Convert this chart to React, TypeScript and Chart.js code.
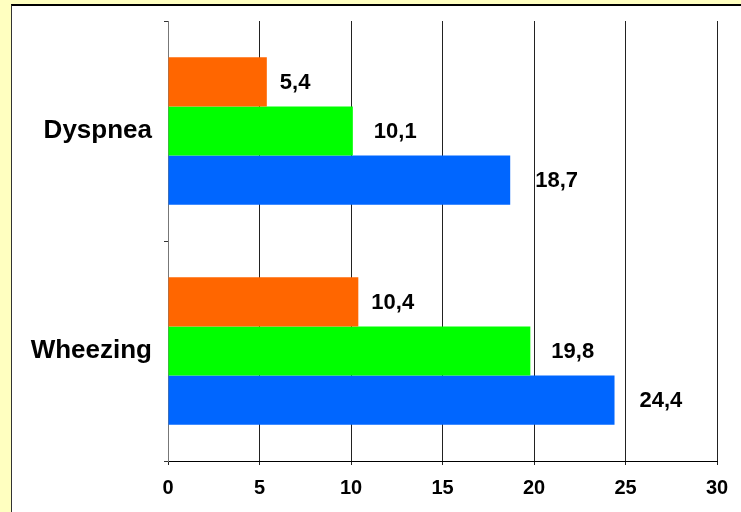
import React, { useEffect, useRef } from "react";
import { Chart, registerables } from "chart.js";

Chart.register(...registerables);

const categories = ["Dyspnea", "Wheezing"];
const seriesOrange = [5.4, 10.4];
const seriesGreen = [10.1, 19.8];
const seriesBlue = [18.7, 24.4];
const xTicks = [0, 5, 10, 15, 20, 25, 30];

const FONT = "'Liberation Sans', Arial, sans-serif";

const valueLabels = {
  id: "valueLabels",
  afterDatasetsDraw(chart: any) {
    const ctx = chart.ctx;
    ctx.save();
    ctx.font = `bold 22px ${FONT}`;
    ctx.fillStyle = "#000";
    ctx.textAlign = "left";
    ctx.textBaseline = "middle";
    chart.data.datasets.forEach((ds: any, i: number) => {
      const meta = chart.getDatasetMeta(i);
      meta.data.forEach((el: any, j: number) => {
        const v = ds.data[j];
        const txt = String(v).replace(".", ",");
        ctx.fillText(txt, el.x + (ds.labelOffset || 15), el.y + 1);
      });
    });
    ctx.restore();
  },
};

export default function App() {
  const ref = useRef<HTMLCanvasElement | null>(null);

  useEffect(() => {
    if (!ref.current) return;
    const chart = new Chart(ref.current, {
      type: "bar",
      data: {
        labels: categories,
        datasets: [
          { label: "A", data: seriesOrange, backgroundColor: "#FF6600", labelOffset: 13 } as any,
          { label: "B", data: seriesGreen, backgroundColor: "#00FF00", labelOffset: 21 } as any,
          { label: "C", data: seriesBlue, backgroundColor: "#0066FF", labelOffset: 25 } as any,
        ],
      },
      options: {
        indexAxis: "y",
        animation: false,
        responsive: false,
        maintainAspectRatio: false,
        events: [],
        layout: { padding: { left: 0, top: 21, right: 24, bottom: 0 } },
        datasets: {
          bar: { categoryPercentage: 0.67, barPercentage: 1 },
        },
        plugins: {
          legend: { display: false },
          tooltip: { enabled: false },
          title: { display: false },
        },
        scales: {
          x: {
            type: "linear",
            min: 0,
            max: 30,
            afterBuildTicks: (scale: any) => {
              scale.ticks = xTicks.map((v) => ({ value: v }));
            },
            afterFit: (scale: any) => {
              scale.height = 51;
            },
            grid: {
              color: "#222",
              lineWidth: 1,
              drawTicks: true,
              tickLength: 4,
            },
            border: { display: true, color: "#000", width: 1 },
            ticks: {
              color: "#000",
              font: { family: FONT, size: 20, weight: "bold" },
              padding: 11,
            },
          },
          y: {
            type: "category",
            afterFit: (scale: any) => {
              scale.width = 168;
              scale.paddingTop = 0;
              scale.paddingBottom = 0;
            },
            grid: {
              offset: true,
              drawOnChartArea: false,
              drawTicks: true,
              tickLength: 4,
              color: "#333",
            },
            border: { display: true, color: "#777", width: 1 },
            ticks: {
              color: "#000",
              font: { family: FONT, size: 26, weight: "bold", lineHeight: 0.5 },
              padding: 12,
            },
          },
        },
      },
      plugins: [valueLabels],
    } as any);
    return () => chart.destroy();
  }, []);

  return (
    <div
      style={{
        position: "fixed",
        left: 0,
        top: 0,
        width: 741,
        height: 512,
        background: "#FFFFC0",
        overflow: "hidden",
      }}
    >
      <div
        style={{
          position: "absolute",
          left: 11,
          top: 4,
          width: 760,
          height: 540,
          background: "#FFFFFF",
          borderTop: "2px solid #000",
          borderLeft: "1px solid #333",
        }}
      />
      <canvas
        ref={ref}
        width={741}
        height={512}
        style={{ position: "absolute", left: 0, top: 0, width: 741, height: 512 }}
      />
    </div>
  );
}
